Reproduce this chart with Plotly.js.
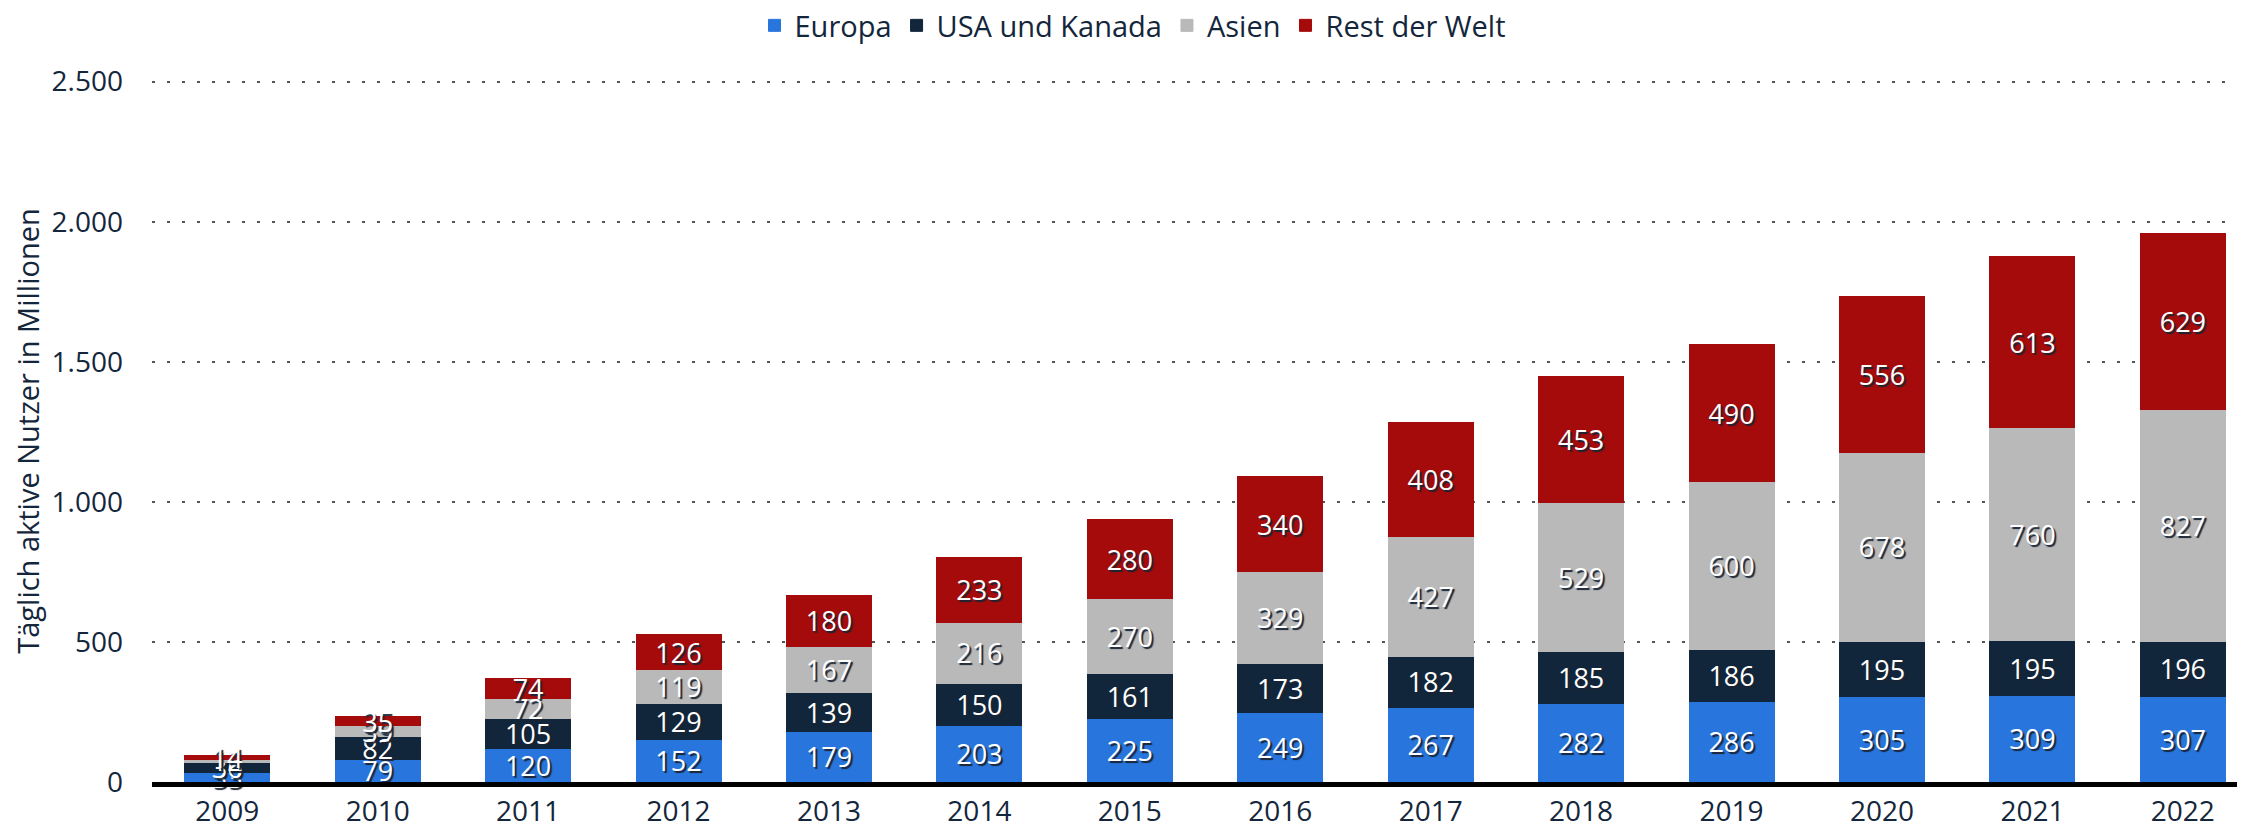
<!DOCTYPE html>
<html>
<head>
<meta charset="utf-8">
<script src="https://cdn.plot.ly/plotly-3.0.1.min.js"></script>
<style>html,body{margin:0;padding:0;background:#fff;}#chart{width:2266px;height:834px;}</style>
</head>
<body>
<div id="chart"></div>
<script>
const years = ["2009","2010","2011","2012","2013","2014","2015","2016","2017","2018","2019","2020","2021","2022"];
const europa = [33, 79, 120, 152, 179, 203, 225, 249, 267, 282, 286, 305, 309, 307];
const usaKanada = [36, 82, 105, 129, 139, 150, 161, 173, 182, 185, 186, 195, 195, 196];
const asien = [12, 39, 72, 119, 167, 216, 270, 329, 427, 529, 600, 678, 760, 827];
const restWelt = [14, 35, 74, 126, 180, 233, 280, 340, 408, 453, 490, 556, 613, 629];
const yTickVals = [0, 500, 1000, 1500, 2000, 2500];
const yTickText = ["0", "500", "1.000", "1.500", "2.000", "2.500"];

const seriesNames = ["Europa", "USA und Kanada", "Asien", "Rest der Welt"];
const seriesData = [europa, usaKanada, asien, restWelt];
const colors = ["#2876dd", "#11263b", "#b9b9b9", "#a50b0b"];

const traces = seriesData.map((vals, i) => ({
  type: "bar",
  name: seriesNames[i],
  x: years,
  y: vals,
  marker: {color: colors[i], line: {color: colors[i], width: 1}},
  text: vals.map(v => String(v)),
  textposition: "inside",
  insidetextanchor: "middle",
  textangle: 0,
  constraintext: "none",
  cliponaxis: false,
  textfont: {family: "Open Sans", size: 27, color: "#ffffff", shadow: "2px 2px 1px #1a2433"},
  hoverinfo: "x+y+name"
}));

const layout = {
  width: 2266, height: 834,
  barmode: "stack",
  bargap: 0.435,
  margin: {l: 152, r: 29, t: 80, b: 52},
  paper_bgcolor: "#ffffff",
  plot_bgcolor: "#ffffff",
  font: {family: "Open Sans", color: "#14263b"},
  showlegend: true,
  legend: {
    orientation: "h", xref: "container", yref: "container",
    x: 0.5, xanchor: "center", y: 1.0, yanchor: "top",
    font: {family: "Open Sans", size: 29, color: "#14263b"},
    traceorder: "normal", itemwidth: 30
  },
  xaxis: {
    type: "category",
    range: [-0.5, 13.36],
    showgrid: false,
    showline: true, linecolor: "#000000", linewidth: 5,
    ticks: "", tickfont: {family: "Open Sans", size: 28, color: "#14263b"},
    fixedrange: true
  },
  yaxis: {
    range: [0, 2506],
    tickvals: yTickVals, ticktext: yTickText,
    showgrid: true, gridcolor: "#555555", gridwidth: 2, griddash: "3px,12px",
    zeroline: false, showline: false, ticks: "",
    ticklabelstandoff: 28,
    tickfont: {family: "Open Sans", size: 28, color: "#14263b"},
    title: {text: "Täglich aktive Nutzer in Millionen", font: {family: "Open Sans", size: 29, color: "#14263b"}, standoff: 3},
    fixedrange: true
  }
};

Plotly.newPlot("chart", traces, layout, {displayModeBar: false, staticPlot: true});
</script>
</body>
</html>
